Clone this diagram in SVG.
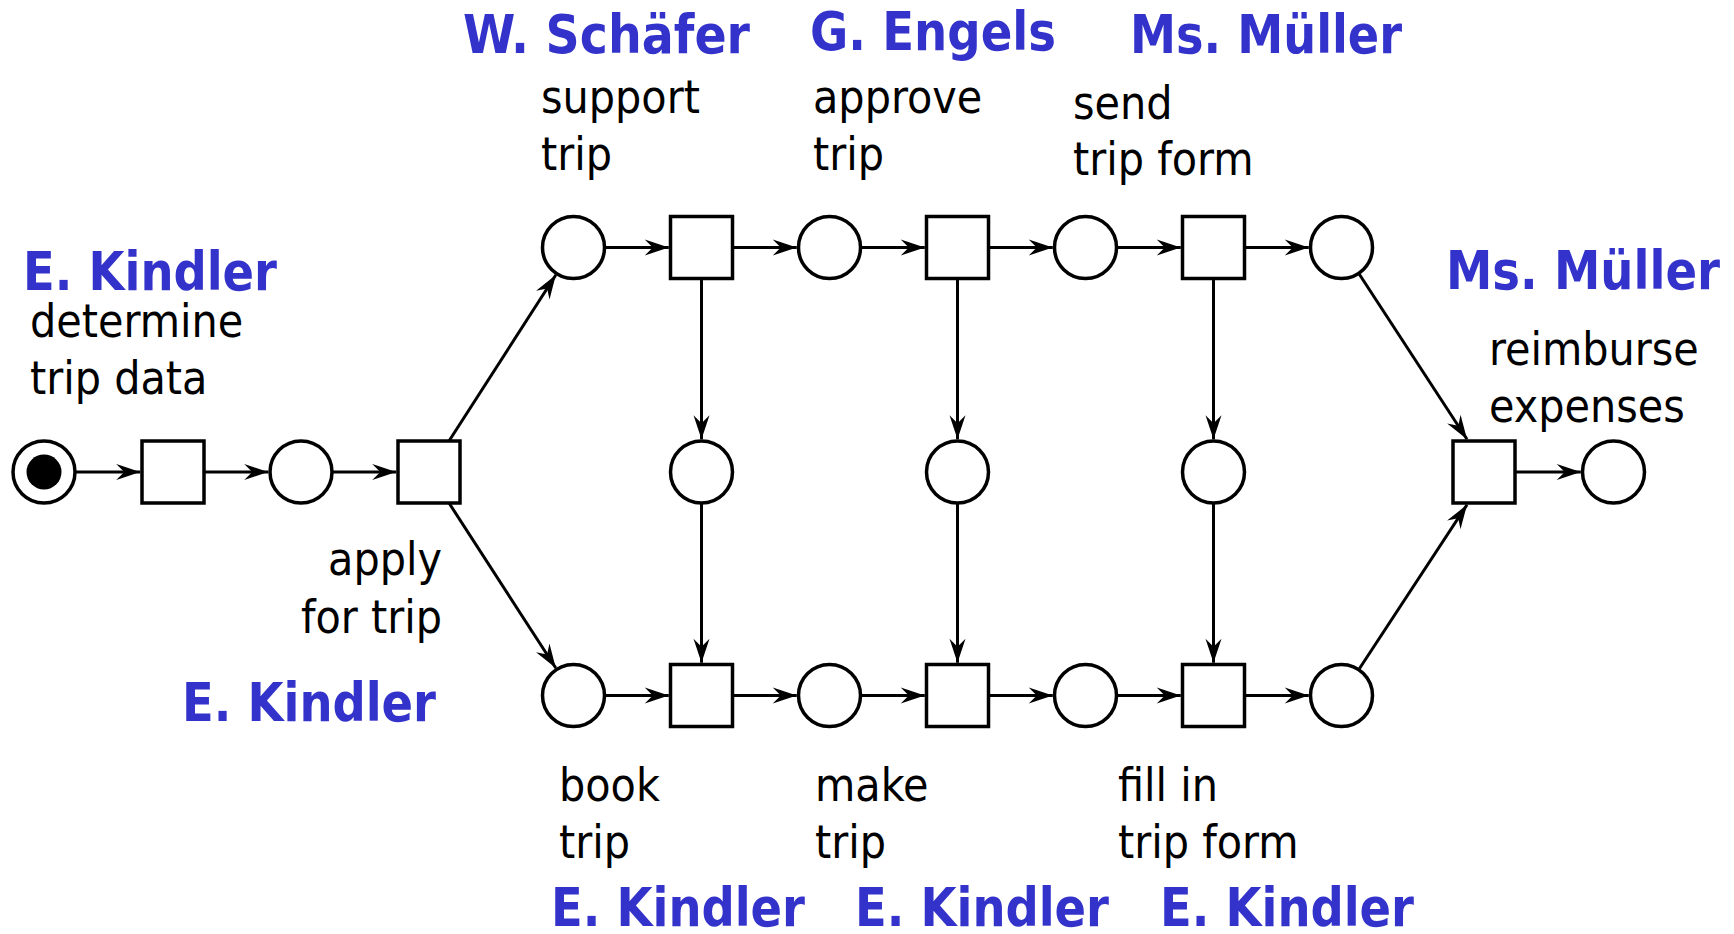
<svg xmlns="http://www.w3.org/2000/svg" width="1734" height="934" viewBox="0 0 1734 934">
<style>
.pl{fill:#fff;stroke:#000;stroke-width:3.5}
.tr{fill:#fff;stroke:#000;stroke-width:3.5}
.arc{stroke:#000;stroke-width:3;fill:none;marker-end:url(#ah)}
.lbl{font-family:"DejaVu Sans Condensed","DejaVu Sans",sans-serif;font-stretch:condensed;font-size:46px;fill:#000}
.who{font-family:"DejaVu Sans Condensed","DejaVu Sans",sans-serif;font-stretch:condensed;font-weight:bold;font-size:54px;fill:#3333CC}
</style>
<defs>
<marker id="ah" markerUnits="userSpaceOnUse" orient="auto" refX="0" refY="0" markerWidth="30" markerHeight="20" overflow="visible">
<path d="M0,0 L-24,-8 L-16,0 L-24,8 Z" fill="#000"/>
</marker>
</defs>
<g id="connectors">
<line class="arc" x1="75" y1="472" x2="140.25" y2="472"/>
<line class="arc" x1="204" y1="472" x2="268.25" y2="472"/>
<line class="arc" x1="332" y1="472" x2="396.25" y2="472"/>
<line class="arc" x1="449" y1="441" x2="555.8" y2="275"/>
<line class="arc" x1="449" y1="503" x2="555.8" y2="668"/>
<line class="arc" x1="604.5" y1="247.5" x2="668.75" y2="247.5"/>
<line class="arc" x1="732.5" y1="247.5" x2="796.75" y2="247.5"/>
<line class="arc" x1="860.5" y1="247.5" x2="924.75" y2="247.5"/>
<line class="arc" x1="988.5" y1="247.5" x2="1052.75" y2="247.5"/>
<line class="arc" x1="1116.5" y1="247.5" x2="1180.75" y2="247.5"/>
<line class="arc" x1="1244.5" y1="247.5" x2="1308.75" y2="247.5"/>
<line class="arc" x1="604.5" y1="695.5" x2="668.75" y2="695.5"/>
<line class="arc" x1="732.5" y1="695.5" x2="796.75" y2="695.5"/>
<line class="arc" x1="860.5" y1="695.5" x2="924.75" y2="695.5"/>
<line class="arc" x1="988.5" y1="695.5" x2="1052.75" y2="695.5"/>
<line class="arc" x1="1116.5" y1="695.5" x2="1180.75" y2="695.5"/>
<line class="arc" x1="1244.5" y1="695.5" x2="1308.75" y2="695.5"/>
<line class="arc" x1="701.5" y1="278.5" x2="701.5" y2="439.25"/>
<line class="arc" x1="957.5" y1="278.5" x2="957.5" y2="439.25"/>
<line class="arc" x1="1213.5" y1="278.5" x2="1213.5" y2="439.25"/>
<line class="arc" x1="701.5" y1="503" x2="701.5" y2="662.75"/>
<line class="arc" x1="957.5" y1="503" x2="957.5" y2="662.75"/>
<line class="arc" x1="1213.5" y1="503" x2="1213.5" y2="662.75"/>
<line class="arc" x1="1359.5" y1="274.5" x2="1467" y2="439.25"/>
<line class="arc" x1="1359.5" y1="668.5" x2="1467" y2="504.75"/>
<line class="arc" x1="1515" y1="472" x2="1580.75" y2="472"/>
</g>
<g id="p-start"><circle class="pl" cx="44" cy="472" r="31"/><circle cx="44" cy="472" r="17.5" fill="#000"/></g>
<g id="t-determine"><rect class="tr" x="142" y="441" width="62" height="62"/>
<text class="who" x="23" y="290" textLength="254" lengthAdjust="spacingAndGlyphs">E. Kindler</text>
<text class="lbl" x="30" y="337">determine</text><text class="lbl" x="30" y="394">trip data</text></g>
<g id="p-1"><circle class="pl" cx="301" cy="472" r="31"/></g>
<g id="t-apply"><rect class="tr" x="398" y="441" width="62" height="62"/>
<text class="lbl" x="442" y="575" text-anchor="end">apply</text><text class="lbl" x="442" y="633" text-anchor="end">for trip</text>
<text class="who" x="182" y="721" textLength="254" lengthAdjust="spacingAndGlyphs">E. Kindler</text></g>
<g id="p-top1"><circle class="pl" cx="573.5" cy="247.5" r="31"/></g>
<g id="t-support"><rect class="tr" x="670.5" y="216.5" width="62" height="62"/>
<text class="who" x="463" y="53" textLength="287" lengthAdjust="spacingAndGlyphs">W. Schäfer</text>
<text class="lbl" x="541" y="113">support</text><text class="lbl" x="541" y="170">trip</text></g>
<g id="p-top2"><circle class="pl" cx="829.5" cy="247.5" r="31"/></g>
<g id="t-approve"><rect class="tr" x="926.5" y="216.5" width="62" height="62"/>
<text class="who" x="810" y="50" textLength="246" lengthAdjust="spacingAndGlyphs">G. Engels</text>
<text class="lbl" x="813" y="113">approve</text><text class="lbl" x="813" y="170">trip</text></g>
<g id="p-top3"><circle class="pl" cx="1085.5" cy="247.5" r="31"/></g>
<g id="t-send"><rect class="tr" x="1182.5" y="216.5" width="62" height="62"/>
<text class="who" x="1130" y="53" textLength="272" lengthAdjust="spacingAndGlyphs">Ms. Müller</text>
<text class="lbl" x="1073" y="119">send</text><text class="lbl" x="1073" y="175">trip form</text></g>
<g id="p-top4"><circle class="pl" cx="1341.5" cy="247.5" r="31"/></g>
<g id="p-mid1"><circle class="pl" cx="701.5" cy="472" r="31"/></g>
<g id="p-mid2"><circle class="pl" cx="957.5" cy="472" r="31"/></g>
<g id="p-mid3"><circle class="pl" cx="1213.5" cy="472" r="31"/></g>
<g id="p-bot1"><circle class="pl" cx="573.5" cy="695.5" r="31"/></g>
<g id="t-book"><rect class="tr" x="670.5" y="664.5" width="62" height="62"/>
<text class="lbl" x="559" y="801">book</text><text class="lbl" x="559" y="858">trip</text>
<text class="who" x="551" y="926" textLength="254" lengthAdjust="spacingAndGlyphs">E. Kindler</text></g>
<g id="p-bot2"><circle class="pl" cx="829.5" cy="695.5" r="31"/></g>
<g id="t-make"><rect class="tr" x="926.5" y="664.5" width="62" height="62"/>
<text class="lbl" x="815" y="801">make</text><text class="lbl" x="815" y="858">trip</text>
<text class="who" x="855" y="926" textLength="254" lengthAdjust="spacingAndGlyphs">E. Kindler</text></g>
<g id="p-bot3"><circle class="pl" cx="1085.5" cy="695.5" r="31"/></g>
<g id="t-fill"><rect class="tr" x="1182.5" y="664.5" width="62" height="62"/>
<text class="lbl" x="1118" y="801">fill in</text><text class="lbl" x="1118" y="858">trip form</text>
<text class="who" x="1160" y="926" textLength="254" lengthAdjust="spacingAndGlyphs">E. Kindler</text></g>
<g id="p-bot4"><circle class="pl" cx="1341.5" cy="695.5" r="31"/></g>
<g id="t-reimburse"><rect class="tr" x="1453" y="441" width="62" height="62"/>
<text class="who" x="1446" y="289" textLength="274" lengthAdjust="spacingAndGlyphs">Ms. Müller</text>
<text class="lbl" x="1489" y="365">reimburse</text><text class="lbl" x="1489" y="422">expenses</text></g>
<g id="p-end"><circle class="pl" cx="1613.5" cy="472" r="31"/></g>
</svg>
